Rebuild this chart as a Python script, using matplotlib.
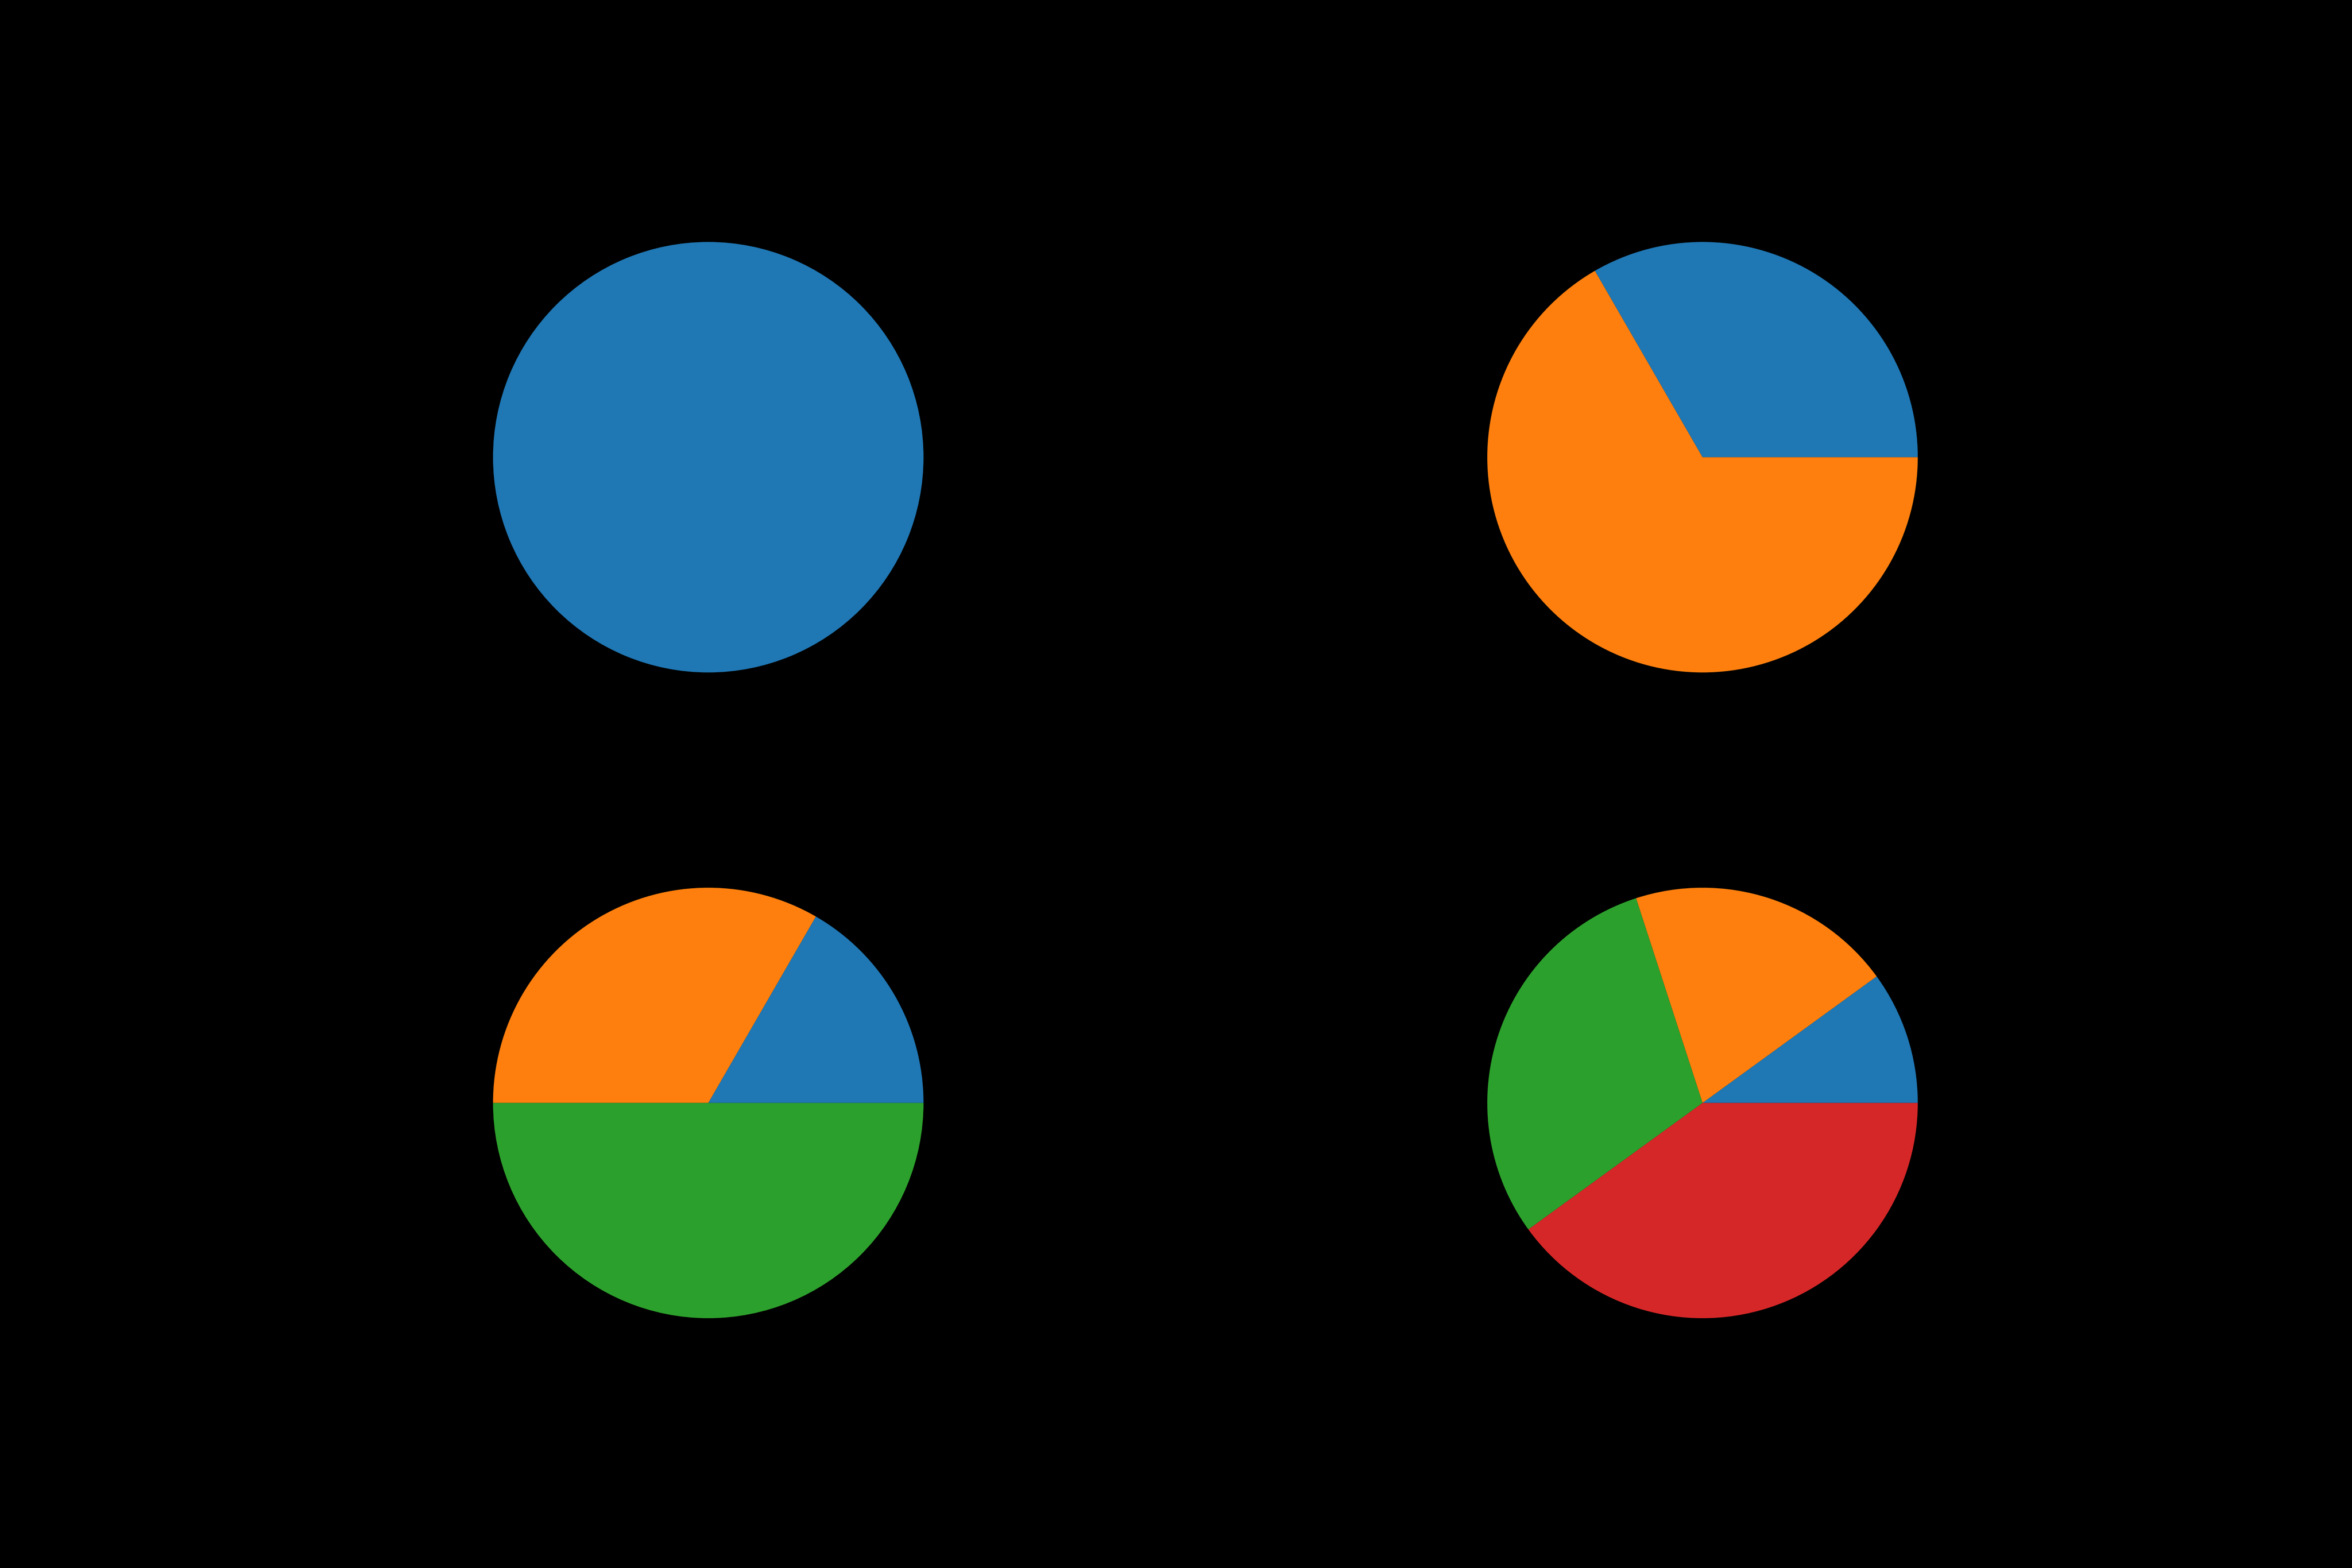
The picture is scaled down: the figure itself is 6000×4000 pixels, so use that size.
import matplotlib
matplotlib.use("Agg")
import matplotlib.pyplot as plt

# slice sizes for each of the four pies
pie1 = [1]
pie2 = [1, 2]
pie3 = [1, 2, 3]
pie4 = [1, 2, 3, 4]

fig, axes = plt.subplots(2, 2, figsize=(6, 4), dpi=1000)
fig.patch.set_facecolor("black")
fig.subplots_adjust(left=0.125, right=0.9, bottom=0.125, top=0.88,
                    wspace=0.2, hspace=0.2)

for ax, sizes in zip(axes.flat, [pie1, pie2, pie3, pie4]):
    ax.set_facecolor("black")
    ax.pie(sizes)

fig.savefig("out.png", facecolor="black")
plt.close(fig)
